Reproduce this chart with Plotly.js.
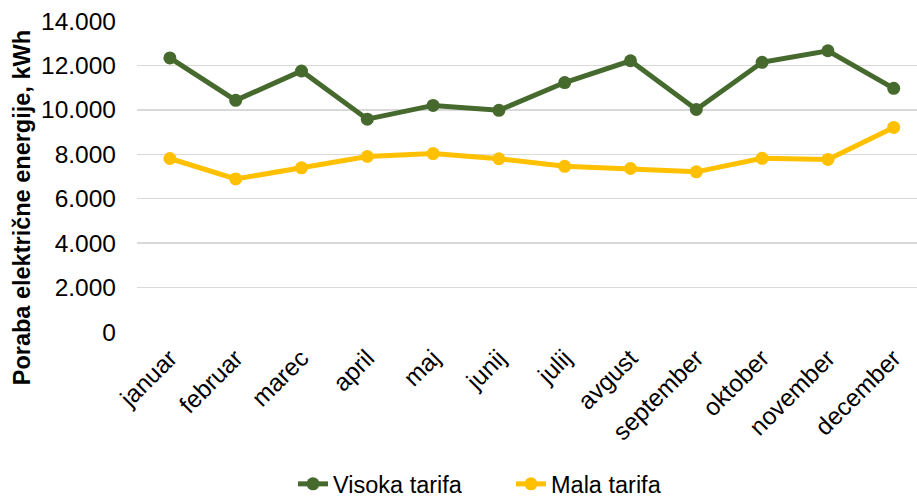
<!DOCTYPE html>
<html>
<head>
<meta charset="utf-8">
<script src="https://cdn.plot.ly/plotly-3.0.1.min.js"></script>
<style>html,body{margin:0;padding:0;background:#fff;}#chart{width:917px;height:498px;}</style>
</head>
<body>
<div id="chart"></div>
<script>
const months = ["januar","februar","marec","april","maj","junij","julij","avgust","september","oktober","november","december"];
const visokaTarifa = [12340, 10430, 11750, 9580, 10200, 9980, 11230, 12210, 10020, 12140, 12660, 10970];
const malaTarifa = [7810, 6890, 7390, 7900, 8030, 7800, 7460, 7360, 7210, 7820, 7770, 9210];
const yTicks = [0, 2000, 4000, 6000, 8000, 10000, 12000, 14000];
const yTitle = "Poraba električne energije, kWh";

const font = "Liberation Sans, Arial, sans-serif";
const traces = [
  {x: months, y: visokaTarifa, name: "Visoka tarifa", type: "scatter", mode: "lines+markers",
   line: {color: "#466A2E", width: 5}, marker: {color: "#466A2E", size: 13}},
  {x: months, y: malaTarifa, name: "Mala tarifa", type: "scatter", mode: "lines+markers",
   line: {color: "#FFC000", width: 5}, marker: {color: "#FFC000", size: 13}}
];
const layout = {
  width: 917, height: 498,
  margin: {l: 137, r: 0, t: 21, b: 166, autoexpand: false},
  separators: ",.",
  paper_bgcolor: "#fff", plot_bgcolor: "#fff",
  font: {family: font, color: "#000", size: 20},
  showlegend: true,
  legend: {orientation: "h", x: 0.2, xanchor: "left", y: -0.489, yanchor: "middle",
           font: {family: font, size: 23.5, color: "#000"}, itemwidth: 30, entrywidth: 173, traceorder: "normal"},
  xaxis: {type: "category", range: [-0.5, 11.354], showgrid: false, zeroline: false, showline: false, automargin: false,
          tickangle: -45, tickfont: {family: font, size: 24.5, color: "#000"}, ticks: "", ticklabelstandoff: 6},
  yaxis: {range: [0, 14000], tickvals: yTicks, tickformat: ",d", showgrid: true, gridcolor: "#D9D9D9", gridwidth: 1.5,
          zeroline: false, showline: false, ticks: "", ticklabelstandoff: 20, automargin: false,
          tickfont: {family: font, size: 24.5, color: "#000"}},
  annotations: [{text: "<b>" + yTitle + "</b>", textangle: -90, xref: "paper", yref: "paper",
                 x: -0.147, y: 0.399, xanchor: "center", yanchor: "middle", showarrow: false,
                 font: {family: font, size: 23.5, color: "#000"}}]
};
Plotly.newPlot("chart", traces, layout, {displayModeBar: false, staticPlot: true});
</script>
</body>
</html>
